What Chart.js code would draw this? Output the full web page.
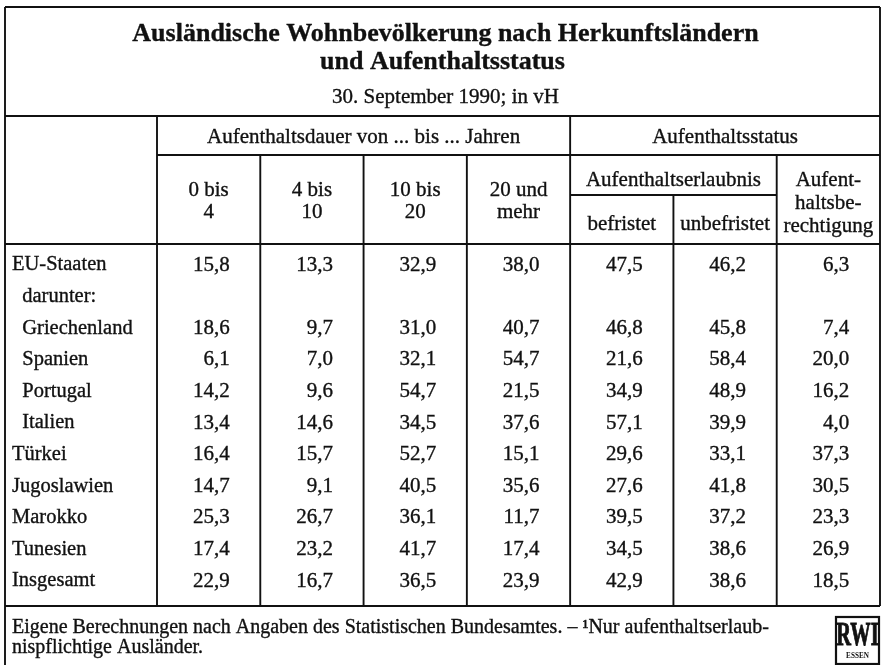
<!DOCTYPE html>
<html lang="de">
<head>
<meta charset="utf-8">
<title>Ausländische Wohnbevölkerung nach Herkunftsländern</title>
<script src="https://cdn.jsdelivr.net/npm/chart.js@4/dist/chart.umd.min.js"></script>
<style>
  html, body { margin: 0; padding: 0; background: #fff; font-family: "Liberation Serif", serif; }
  #wrap { width: 883px; height: 665px; position: relative; }
</style>
</head>
<body>
<div id="wrap"><canvas id="chartCanvas"></canvas></div>
<script>
// ---- data (vH), one array per column, rows in table order ----
const rowLabels = ['EU-Staaten', 'darunter:', 'Griechenland', 'Spanien', 'Portugal', 'Italien',
    'Türkei', 'Jugoslawien', 'Marokko', 'Tunesien', 'Insgesamt'];
const indentedRows = ['darunter:', 'Griechenland', 'Spanien', 'Portugal', 'Italien'];

const dauer0bis4   = [15.8, null, 18.6,  6.1, 14.2, 13.4, 16.4, 14.7, 25.3, 17.4, 22.9];
const dauer4bis10  = [13.3, null,  9.7,  7.0,  9.6, 14.6, 15.7,  9.1, 26.7, 23.2, 16.7];
const dauer10bis20 = [32.9, null, 31.0, 32.1, 54.7, 34.5, 52.7, 40.5, 36.1, 41.7, 36.5];
const dauer20mehr  = [38.0, null, 40.7, 54.7, 21.5, 37.6, 15.1, 35.6, 11.7, 17.4, 23.9];
const befristet    = [47.5, null, 46.8, 21.6, 34.9, 57.1, 29.6, 27.6, 39.5, 34.5, 42.9];
const unbefristet  = [46.2, null, 45.8, 58.4, 48.9, 39.9, 33.1, 41.8, 37.2, 38.6, 38.6];
const berechtigung = [ 6.3, null,  7.4, 20.0, 16.2,  4.0, 37.3, 30.5, 23.3, 26.9, 18.5];

const columns = [dauer0bis4, dauer4bis10, dauer10bis20, dauer20mehr, befristet, unbefristet, berechtigung];
const columnHeads = [['0 bis', '4'], ['4 bis', '10'], ['10 bis', '20'], ['20 und', 'mehr'],
    ['befristet'], ['unbefristet'], ['Aufent-', 'haltsbe-', 'rechtigung']];

const titleLines = ['Ausländische Wohnbevölkerung nach Herkunftsländern', 'und Aufenthaltsstatus'];
const subTitle = '30. September 1990; in vH';
const groupDauer = 'Aufenthaltsdauer von ... bis ... Jahren';
const groupStatus = 'Aufenthaltsstatus';
const groupErlaubnis = 'Aufenthaltserlaubnis';
const footLines = ['Eigene Berechnungen nach Angaben des Statistischen Bundesamtes. \u2013 \u00b9Nur aufenthaltserlaub-',
    'nispflichtige Ausländer.'];

const SERIF = '"Liberation Serif", "Times New Roman", serif';
const INK = '#111';
const WEIGHT = 0.35; // scanned print looks a bit heavier than the font

const fmt = v => v.toFixed(1).replace('.', ',');

// frame lines (pixel rows of the printed table)
const FRAME = { left: 5, right: 880, top: 7, head: 116, dauerLine: 155, erlLine: 195, body: 244, foot: 606, bottom: 665 };

const tablePlugin = {
    id: 'tableFrame',
    afterDraw(chart) {
        const { ctx, scales: { x } } = chart;
        const col = i => x.getPixelForValue(i);
        const mid = i => x.getPixelForValue(i + 0.5);

        ctx.save();
        ctx.strokeStyle = INK;
        ctx.lineWidth = 1.9;
        const line = (x1, y1, x2, y2) => {
            ctx.beginPath(); ctx.moveTo(x1, y1); ctx.lineTo(x2, y2); ctx.stroke();
        };
        // horizontal rules
        line(FRAME.left, FRAME.top, FRAME.right, FRAME.top);
        line(FRAME.left, FRAME.head, FRAME.right, FRAME.head);
        line(col(0), FRAME.dauerLine, FRAME.right, FRAME.dauerLine);
        line(col(4), FRAME.erlLine, col(6), FRAME.erlLine);
        line(FRAME.left, FRAME.body, FRAME.right, FRAME.body);
        line(FRAME.left, FRAME.foot, FRAME.right, FRAME.foot);
        // vertical rules
        line(FRAME.left, FRAME.top, FRAME.left, FRAME.bottom);
        line(FRAME.right, FRAME.top, FRAME.right, FRAME.foot);
        line(col(0), FRAME.head, col(0), FRAME.foot);
        line(col(4), FRAME.head, col(4), FRAME.foot);
        [1, 2, 3, 6].forEach(i => line(col(i), FRAME.dauerLine, col(i), FRAME.foot));
        line(col(5), FRAME.erlLine, col(5), FRAME.foot);

        const text = (t, tx, ty) => {
            ctx.lineWidth = WEIGHT;
            ctx.fillText(t, tx, ty);
            ctx.strokeText(t, tx, ty);
        };

        // titles
        ctx.fillStyle = INK;
        ctx.textAlign = 'center';
        ctx.textBaseline = 'middle';
        const cx = (FRAME.left + FRAME.right) / 2;
        ctx.font = 'bold 26px ' + SERIF;
        text(titleLines[0], cx + 3, 34);
        text(titleLines[1], cx, 62);
        ctx.font = '21px ' + SERIF;
        text(subTitle, cx + 3, 97);

        // header cells
        text(groupDauer, (col(0) + col(4)) / 2, 137);
        text(groupStatus, (col(4) + col(7)) / 2, 137);
        text(groupErlaubnis, (col(4) + col(6)) / 2, 180);
        columnHeads.forEach((lines, i) => {
            let ys;
            if (i < 4) ys = [190, 212];
            else if (i < 6) ys = [224];
            else ys = [180, 203, 226];
            lines.forEach((t, k) => text(t, mid(i), ys[k]));
        });

        // cell values, placed on the scatter points
        ctx.font = '21px ' + SERIF;
        ctx.textAlign = 'right';
        chart.data.datasets.forEach((ds, di) => {
            const meta = chart.getDatasetMeta(di);
            meta.data.forEach((pt, i) => {
                text(fmt(ds.data[i].v), pt.x + 21, pt.y);
            });
        });

        // footnote
        ctx.textAlign = 'left';
        ctx.font = '20px ' + SERIF;
        text(footLines[0], 12, 628);
        text(footLines[1], 12, 648);

        // RWI logo
        ctx.lineWidth = 2.2;
        ctx.strokeRect(836, 617, 43, 47);
        ctx.textAlign = 'center';
        ctx.save();
        ctx.translate(857.5, 636);
        ctx.scale(0.6, 1);
        ctx.font = 'bold 34px ' + SERIF;
        ctx.lineWidth = 1;
        ctx.fillText('RWI', 0, 0);
        ctx.strokeText('RWI', 0, 0);
        ctx.restore();
        ctx.save();
        ctx.translate(857.5, 656);
        ctx.scale(0.8, 1);
        ctx.font = 'bold 9px ' + SERIF;
        ctx.fillText('ESSEN', 0, 0);
        ctx.restore();
        ctx.restore();
    }
};

const buildChart = () => {
    const datasets = columns.map((values, c) => ({
        label: columnHeads[c].join(' '),
        data: values
            .map((v, i) => v == null ? null : { x: c + 0.5, y: rowLabels[i], v: v })
            .filter(d => d),
        pointRadius: 0,
        showLine: false
    }));

    Chart.defaults.font.family = SERIF;
    Chart.defaults.color = INK;

    return new Chart(document.getElementById('chartCanvas'), {
        type: 'scatter',
        data: { labels: rowLabels, datasets: datasets },
        plugins: [tablePlugin],
        options: {
            responsive: true,
            maintainAspectRatio: false,
            animation: false,
            events: [],
            layout: { padding: { top: 265, bottom: 84, left: 12, right: 3 } },
            plugins: { legend: { display: false }, tooltip: { enabled: false }, title: { display: false } },
            scales: {
                x: { type: 'linear', min: 0, max: 7, display: false },
                y: {
                    type: 'category',
                    labels: rowLabels,
                    offset: false,
                    grid: { display: false },
                    border: { display: false },
                    afterFit: scale => { scale.width = 145; },
                    ticks: {
                        crossAlign: 'far',
                        padding: 0,
                        autoSkip: false,
                        font: { size: 20.5, family: SERIF },
                        color: INK,
                        textStrokeColor: INK,
                        textStrokeWidth: WEIGHT,
                        callback: function (value) {
                            const name = this.getLabelForValue(value);
                            return indentedRows.includes(name) ? '\u2002' + name : name;
                        }
                    }
                }
            }
        }
    });
};

// make sure the serif face is ready before the canvas draws text
Promise.all([
    document.fonts.load('21px "Liberation Serif"'),
    document.fonts.load('bold 26px "Liberation Serif"')
]).catch(() => null).then(buildChart);
</script>
</body>
</html>
